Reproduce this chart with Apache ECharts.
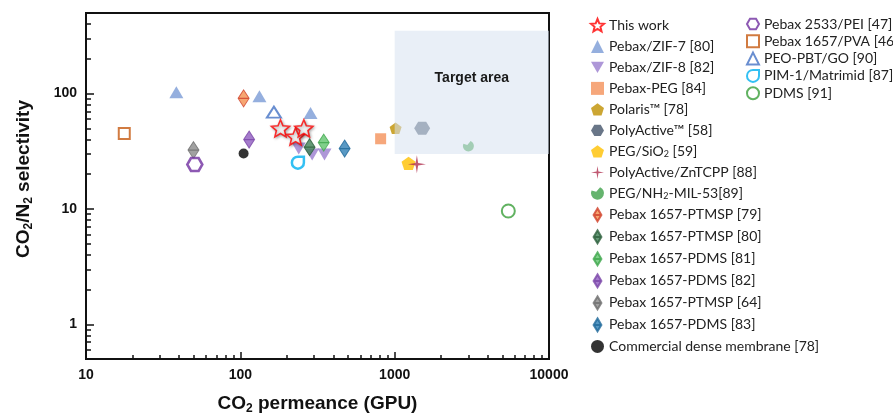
<!DOCTYPE html>
<html>
<head>
<meta charset="utf-8">
<script src="https://cdn.jsdelivr.net/npm/echarts@6/dist/echarts.min.js"></script>
<style>
html,body{margin:0;padding:0;background:#fff;}
#chart{width:893px;height:414px;}
</style>
</head>
<body>
<div id="chart"></div>
<script>
// ---------- data (CO2 permeance in GPU, CO2/N2 selectivity) ----------
const thisWorkX = [182, 228, 258];
const thisWorkY = [50, 42.5, 50];
const zif7X = [38.5, 133, 285];
const zif7Y = [103, 95, 68];
const zif8X = [239, 292, 351];
const zif8Y = [33.5, 29.7, 29.7];
const pebaxPegX = [811];
const pebaxPegY = [40.6];
const polarisX = [1014];
const polarisY = [50];
const polyActiveX = [1507];
const polyActiveY = [50];
const pegSiO2X = [1230];
const pegSiO2Y = [24.8];
const znTcppX = [1393];
const znTcppY = [24.4];
const mil53X = [3005];
const mil53Y = [35];
const ptmsp79X = [105];
const ptmsp79Y = [91];
const ptmsp80X = [281];
const ptmsp80Y = [34.3];
const pdms81X = [347];
const pdms81Y = [37.6];
const pdms82X = [114];
const pdms82Y = [40];
const ptmsp64X = [49.7];
const ptmsp64Y = [32.4];
const pdms83X = [474];
const pdms83Y = [33.4];
const commercialX = [105];
const commercialY = [30.3];
const peiX = [50.7];
const peiY = [24.3];
const pvaX = [17.7];
const pvaY = [45];
const peoPbtX = [165];
const peoPbtY = [69];
const pim1X = [236];
const pim1Y = [25.2];
const pdmsX = [5450];
const pdmsY = [9.6];

// target area: [xMin, yMin, xMax, yMax]
const targetArea = [1000, 30, 10000, 350];

// axis ticks
const xMajorTicks = [10, 100, 1000, 10000];
const xMinorTicks = [20,30,40,50,60,70,80,90,200,300,400,500,600,700,800,900,2000,3000,4000,5000,6000,7000,8000,9000];
const yMajorTicks = [1, 10, 100];
const yMinorTicks = [0.6,0.7,0.8,0.9,2,3,4,5,6,7,8,9,20,30,40,50,60,70,80,90,200,300,400];

const legendCol1 = ['This work','Pebax/ZIF-7 [80]','Pebax/ZIF-8 [82]','Pebax-PEG [84]','Polaris™ [78]','PolyActive™ [58]','PEG/SiO2 [59]','PolyActive/ZnTCPP [88]','PEG/NH2-MIL-53[89]','Pebax 1657-PTMSP [79]','Pebax 1657-PTMSP [80]','Pebax 1657-PDMS [81]','Pebax 1657-PDMS [82]','Pebax 1657-PTMSP [64]','Pebax 1657-PDMS [83]','Commercial dense membrane [78]'];
const legendCol2 = ['Pebax 2533/PEI [47]','Pebax 1657/PVA [46]','PEO-PBT/GO [90]','PIM-1/Matrimid [87]','PDMS [91]'];

// ---------- symbols ----------
const STAR5 = 'path://M0,-100L26,-36L95,-31L43,14L59,81L0,45L-59,81L-43,14L-95,-31L-26,-36Z';
const STAR4 = 'path://M0,-100L14,-14L100,0L14,14L0,100L-14,14L-100,0L-14,-14Z';
const HEX = 'path://M100,0L50,87L-50,87L-100,0L-50,-87L50,-87Z';
const PENT = 'path://M0,-100L95,-31L59,81L-59,81L-95,-31Z';
const DIAM = 'path://M0,-100L60,0L0,100L-60,0ZM-60,0L60,0';
const DROP = 'path://M0,-100L100,-100L100,0A100,100 0 1,1 0,-100Z';
const LEAF = 'path://M40,-92A100,100 0 1,1 -92,-40L-20,-20Z';
const TRI_DOWN = 'path://M-100,-87L100,-87L0,87Z';

function pts(xs, ys) { return xs.map((x, i) => [x, ys[i]]); }
function mk(name, xs, ys, symbol, size, itemStyle, extra) {
  return Object.assign({
    type: 'scatter', name: name, data: pts(xs, ys), symbol: symbol, symbolSize: size,
    itemStyle: itemStyle, z: 3, emphasis: {disabled: true}
  }, extra || {});
}

const series = [
  mk('Pebax 1657/PVA [46]', pvaX, pvaY, 'rect', 11, {color:'#fff', borderColor:'#c55a11', borderWidth:2}),
  mk('Pebax/ZIF-7 [80]', zif7X, zif7Y, 'triangle', [14,12], {color:'#7b9bd6'}),
  mk('Pebax/ZIF-8 [82]', zif8X, zif8Y, TRI_DOWN, [14,12], {color:'#9a7dce'}),
  mk('Pebax-PEG [84]', pebaxPegX, pebaxPegY, 'rect', 11, {color:'#f4915a'}),
  mk('Polaris™ [78]', polarisX, polarisY, PENT, 12, {color:'#bf9000'}, {symbolKeepAspect:true}),
  mk('PolyActive™ [58]', polyActiveX, polyActiveY, HEX, [16,13], {color:'#44546a'}),
  mk('PEG/SiO2 [59]', pegSiO2X, pegSiO2Y, PENT, 14, {color:'#ffc000'}, {symbolKeepAspect:true}),
  mk('PolyActive/ZnTCPP [88]', znTcppX, znTcppY, STAR4, 18, {color:'#b0304f'}),
  mk('PEG/NH2-MIL-53[89]', mil53X, mil53Y, LEAF, 11, {color:'#3ea14a'}, {symbolKeepAspect:true}),
  mk('Pebax 1657-PTMSP [79]', ptmsp79X, ptmsp79Y, DIAM, [11,17], {color:'#f4904f', borderColor:'#d0402a', borderWidth:1}),
  mk('Pebax 1657-PTMSP [80]', ptmsp80X, ptmsp80Y, DIAM, [11,17], {color:'#3f7f55', borderColor:'#2d5f3c', borderWidth:1}),
  mk('Pebax 1657-PDMS [81]', pdms81X, pdms81Y, DIAM, [11,17], {color:'#62c46e', borderColor:'#3fa64c', borderWidth:1}),
  mk('Pebax 1657-PDMS [82]', pdms82X, pdms82Y, DIAM, [11,17], {color:'#8e5bbf', borderColor:'#7a46a8', borderWidth:1}),
  mk('Pebax 1657-PTMSP [64]', ptmsp64X, ptmsp64Y, DIAM, [11,17], {color:'#8a8a8a', borderColor:'#6e6e6e', borderWidth:1}),
  mk('Pebax 1657-PDMS [83]', pdms83X, pdms83Y, DIAM, [11,17], {color:'#2f7fb5', borderColor:'#20699a', borderWidth:1}),
  mk('Commercial dense membrane [78]', commercialX, commercialY, 'circle', 10, {color:'#000'}),
  mk('Pebax 2533/PEI [47]', peiX, peiY, HEX, [15,13], {color:'#fff', borderColor:'#7030a0', borderWidth:2.5}),
  mk('PEO-PBT/GO [90]', peoPbtX, peoPbtY, 'triangle', [14,11], {color:'#fff', borderColor:'#4472c4', borderWidth:2}),
  mk('PIM-1/Matrimid [87]', pim1X, pim1Y, DROP, 12, {color:'#fff', borderColor:'#00b0f0', borderWidth:2.5}, {symbolKeepAspect:true}),
  mk('PDMS [91]', pdmsX, pdmsY, 'circle', 13, {color:'#fff', borderColor:'#3a9f3a', borderWidth:2}),
  mk('This work', thisWorkX, thisWorkY, STAR5, 18, {color:'#fff', borderColor:'#ff0000', borderWidth:1.6, shadowBlur:3, shadowColor:'rgba(0,0,0,0.35)', shadowOffsetX:1, shadowOffsetY:1}, {symbolKeepAspect:true}),
  {
    type: 'custom', name: 'target', z: 10, silent: true,
    data: [targetArea],
    encode: {x: [0, 2], y: [1, 3]},
    renderItem: function (params, api) {
      const p1 = api.coord([api.value(0), api.value(3)]);
      const p2 = api.coord([api.value(2), api.value(1)]);
      return {
        type: 'group',
        children: [
          {type: 'rect', shape: {x: p1[0], y: p1[1], width: p2[0] - p1[0], height: p2[1] - p1[1]},
           style: {fill: 'rgba(215,225,241,0.55)'}},
          {type: 'text', x: (p1[0] + p2[0]) / 2, y: p1[1] + 47,
           style: {text: 'Target area', font: 'bold 14px "Liberation Sans", Arial', fill: '#1a1a1a', align: 'center', verticalAlign: 'middle'}}
        ]
      };
    }
  }
];

const subRich = {
  n: {fontSize: 14, lineHeight: 14, fontFamily: 'Lato', color: '#222'},
  s: {fontSize: 9, lineHeight: 8, verticalAlign: 'bottom', fontFamily: 'Lato', color: '#222'}
};
function legendFmt(name) {
  if (name === 'PEG/SiO2 [59]') return '{n|PEG/SiO}{s|2}{n| [59]}';
  if (name === 'PEG/NH2-MIL-53[89]') return '{n|PEG/NH}{s|2}{n|-MIL-53[89]}';
  return '{n|' + name + '}';
}

const axisFont = {fontFamily: '"Liberation Sans", Arial', fontWeight: 'bold', color: '#111'};
const nameRich = {
  n: {fontSize: 19, fontWeight: 'bold', fontFamily: '"Liberation Sans", Arial', color: '#111', lineHeight: 22},
  s: {fontSize: 12, fontWeight: 'bold', fontFamily: '"Liberation Sans", Arial', color: '#111', lineHeight: 11, verticalAlign: 'bottom'}
};
function majorLabel(v) {
  const l = Math.log10(v);
  if (Math.abs(l - Math.round(l)) < 1e-6 && v >= 1) return String(Math.round(v));
  return '';
}

const chart = echarts.init(document.getElementById('chart'), null, {renderer: 'canvas'});
chart.setOption({
  animation: false,
  backgroundColor: '#fff',
  grid: {left: 86, right: 344, top: 13, bottom: 55, containLabel: false, outerBoundsMode: 'none',
         show: true, borderColor: '#111', borderWidth: 2, backgroundColor: 'transparent'},
  legend: [
    {
      data: legendCol1, orient: 'vertical', left: 590, top: 18, padding: 0,
      itemWidth: 13, itemHeight: 13, itemGap: 7.0, selectedMode: false,
      formatter: legendFmt, textStyle: {rich: subRich}
    },
    {
      data: legendCol2, orient: 'vertical', left: 746, top: 17, padding: 0,
      itemWidth: 12, itemHeight: 12, itemGap: 3.3, selectedMode: false,
      formatter: legendFmt, textStyle: {rich: subRich}
    }
  ],
  xAxis: [
    {
      type: 'log', logBase: 10, min: xMajorTicks[0], max: xMajorTicks[xMajorTicks.length - 1],
      name: '{n|CO}{s|2}{n| permeance (GPU)}', nameLocation: 'middle', nameGap: 34,
      nameTextStyle: {rich: nameRich},
      axisLine: {show: true, onZero: false, lineStyle: {color: '#111', width: 2}},
      axisTick: {show: true, inside: true, length: 7, lineStyle: {color: '#111', width: 1.5}},
      axisLabel: Object.assign({fontSize: 14, margin: 9, formatter: majorLabel}, axisFont),
      splitLine: {show: false}, minorTick: {show: false}
    },
    {
      type: 'value', gridIndex: 0, position: 'bottom', offset: 0,
      min: Math.log10(xMajorTicks[0]), max: Math.log10(xMajorTicks[xMajorTicks.length - 1]),
      axisLine: {show: false, onZero: false},
      axisTick: {show: true, inside: true, length: 4, lineStyle: {color: '#111', width: 1.5}, customValues: xMinorTicks.map(Math.log10)},
      axisLabel: {show: false}, splitLine: {show: false}
    }
  ],
  yAxis: [
    {
      type: 'log', logBase: 10, min: 0.5, max: 500,
      name: '{n|CO}{s|2}{n|/N}{s|2}{n| selectivity}', nameLocation: 'middle', nameGap: 51, nameRotate: 90,
      nameTextStyle: {rich: nameRich, padding: [0, 0, 0, 14]},
      axisLine: {show: true, onZero: false, lineStyle: {color: '#111', width: 2}},
      axisTick: {show: true, inside: true, length: 8, lineStyle: {color: '#111', width: 1.5}},
      axisLabel: Object.assign({fontSize: 14, margin: 9, formatter: majorLabel}, axisFont),
      splitLine: {show: false}, minorTick: {show: false}
    },
    {
      type: 'value', gridIndex: 0, position: 'left', offset: 0,
      min: Math.log10(0.5), max: Math.log10(500),
      axisLine: {show: false, onZero: false},
      axisTick: {show: true, inside: true, length: 5, lineStyle: {color: '#111', width: 1.5}, customValues: yMinorTicks.map(Math.log10)},
      axisLabel: {show: false}, splitLine: {show: false}
    }
  ],
  series: series
});
</script>
</body>
</html>
